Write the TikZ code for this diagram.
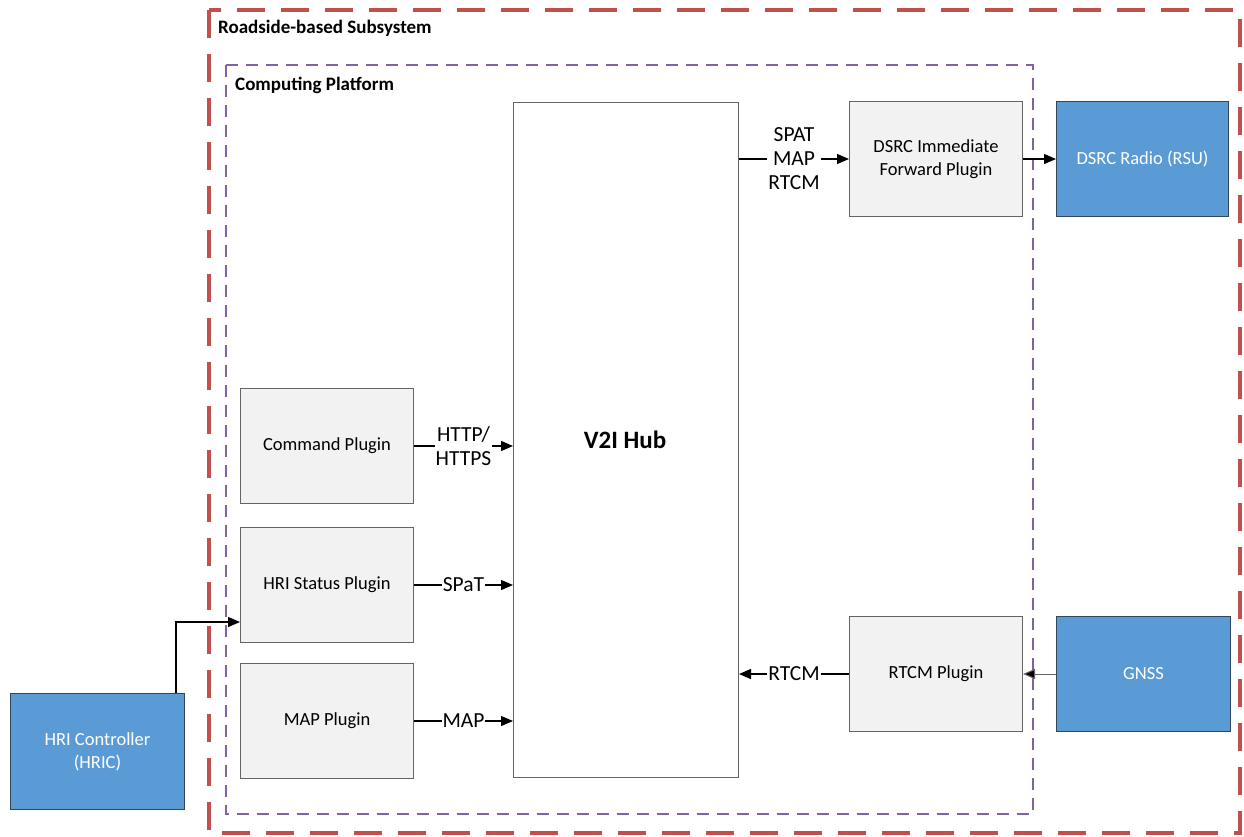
\documentclass[tikz,border=0pt]{standalone}
\usepackage{fontspec}
\setmainfont{Carlito}
\usetikzlibrary{arrows.meta,positioning}
\definecolor{redline}{RGB}{192,80,77}
\definecolor{purpleline}{RGB}{128,100,162}
\definecolor{plugfill}{RGB}{242,242,242}
\definecolor{plugdraw}{RGB}{100,100,100}
\definecolor{extfill}{RGB}{91,155,213}
\definecolor{extdraw}{RGB}{50,70,90}
\tikzset{
  plugin/.style={draw=plugdraw, line width=1pt, fill=plugfill, minimum width=173pt, minimum height=115pt, inner sep=0pt, font=\fontsize{18.5}{23}\selectfont, align=center, anchor=north west},
  extbox/.style={draw=extdraw, line width=1pt, fill=extfill, text=white, minimum height=115pt, inner sep=0pt, font=\fontsize{18.5}{23}\selectfont, align=center, anchor=north west},
  flow/.style={line width=1.3pt, -{Triangle[length=12pt,width=10pt]}},
  flowlabel/.style={fill=white, inner sep=1pt, font=\fontsize{21.5}{24}\selectfont, align=center},
  grouptitle/.style={font=\bfseries\fontsize{19}{22}\selectfont, anchor=west, inner sep=0pt}
}
\begin{document}
\begin{tikzpicture}[x=1pt,y=-1pt]
\useasboundingbox (0,0) rectangle (1244,836);
% subsystem frames
\draw[redline, line width=4pt, dash pattern=on 28pt off 16pt] (209,10) rectangle (1240,833);
\node[grouptitle] (rsstitle) at (218,28) {Roadside-based Subsystem};
\draw[purpleline, line width=2pt, dash pattern=on 12pt off 8pt] (226,65) rectangle (1033,814);
\node[grouptitle] (cptitle) at (235,85) {Computing Platform};
% hub
\node[draw=plugdraw, line width=1pt, fill=white, minimum width=225pt, minimum height=675pt, anchor=north west, inner sep=0pt] (hub) at (513,102) {};
\node[font=\bfseries\fontsize{25}{30}\selectfont] (hubtext) at (625,440) {V2I Hub};
% plugins
\node[plugin] (dsrcfwd) at (849,101) {DSRC Immediate\\Forward Plugin};
\node[plugin] (cmd) at (240,388) {Command Plugin};
\node[plugin] (hri) at (240,527) {HRI Status Plugin};
\node[plugin] (map) at (240,663) {MAP Plugin};
\node[plugin] (rtcm) at (849,616) {RTCM Plugin};
% external devices
\node[extbox, minimum width=172pt] (radio) at (1056,101) {DSRC Radio (RSU)};
\node[extbox, minimum width=174pt] (gnss) at (1056,616) {GNSS};
\node[extbox, minimum width=174pt, minimum height=116pt] (hric) at (10,693) {HRI Controller\\(HRIC)};
% message flows
\draw[flow] (hub.east |- dsrcfwd.west) -- node[flowlabel, pos=0.5] {SPAT\\MAP\\RTCM} (dsrcfwd.west);
\draw[flow] (dsrcfwd.east) -- (radio.west);
\draw[flow] (cmd.east) -- node[flowlabel, pos=0.5] {HTTP/\\HTTPS} (cmd.east -| hub.west);
\draw[flow] (hri.east) -- node[flowlabel, pos=0.5] {SPaT} (hri.east -| hub.west);
\draw[flow] (map.east) -- node[flowlabel, pos=0.5] {MAP} (map.east -| hub.west);
\draw[flow] (rtcm.west) -- node[flowlabel, pos=0.5] {RTCM} (rtcm.west -| hub.east);
\draw[line width=1pt, draw=plugdraw, -{Triangle[length=12pt,width=10pt,fill=black]}] (gnss.west) -- (rtcm.east);
\coordinate (hricbend) at (176,622);
\draw[flow] (hric.north -| hricbend) -- (hricbend) -- (hricbend -| hri.west);
\end{tikzpicture}
\end{document}
